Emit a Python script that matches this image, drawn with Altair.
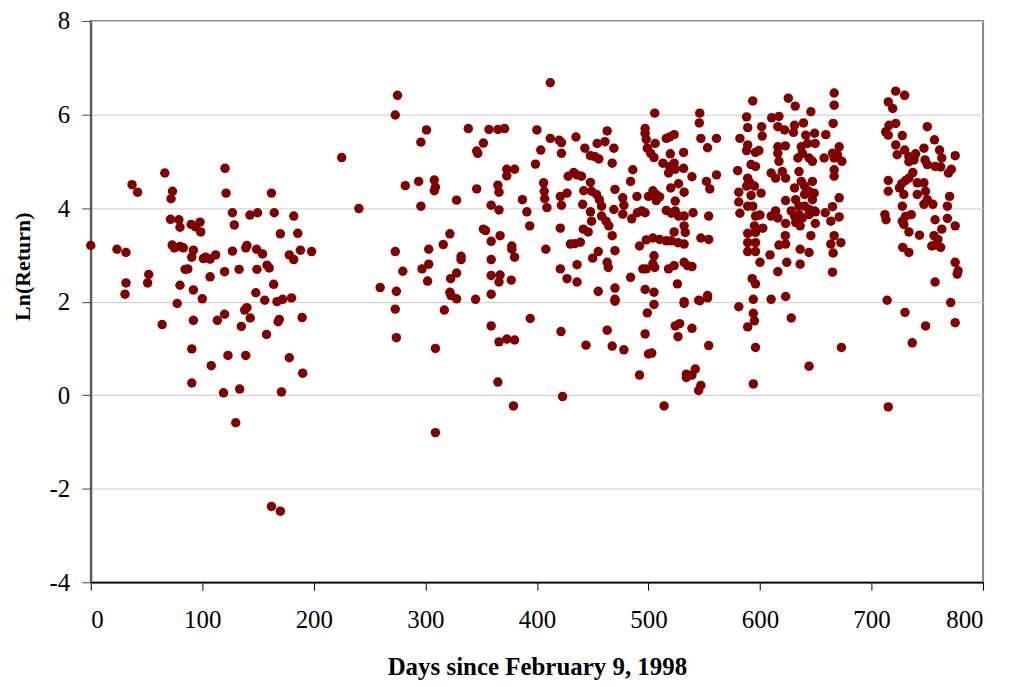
import altair as alt
import pandas as pd

# Segment 0-200 days
days_a = [0, 23.5, 31.6, 37, 42, 31.6, 30.7, 66.4, 73.3, 72, 52, 51, 71.5, 79, 80, 73, 75, 80, 83, 92,
          90.5, 90, 94, 98, 98.6, 101, 103, 107, 112, 120.4, 121.3, 127, 128.7, 127, 140, 139, 142.7, 149.6,
          148.7, 154, 162, 164.5, 170, 158, 160, 182, 185.6, 178, 182, 188, 198, 133, 120, 107, 84.6, 87, 80,
          92, 100, 149, 164, 148, 156, 167, 172, 180, 77.5, 64, 92, 113.5, 120, 138, 140, 143, 135, 168, 169,
          157.6, 189.5, 90.6, 123, 139, 108, 178, 190, 90.6, 119, 133.5, 171, 130, 162, 170]
ret_a = [3.2, 3.12, 3.05, 4.5, 4.34, 2.4, 2.16, 4.75, 4.36, 4.2, 2.58, 2.4, 3.76, 3.75, 3.59, 3.21, 3.15, 3.18,
         3.15, 3.1, 2.95, 3.65, 3.6, 3.7, 3.49, 2.92, 2.95, 2.91, 3.0, 4.85, 4.32, 3.9, 3.64, 3.08, 3.2, 3.15,
         3.85, 3.9, 3.12, 3.02, 4.32, 3.9, 3.45, 2.78, 2.72, 3.83, 3.46, 3.0, 2.9, 3.1, 3.07, 2.69, 2.64, 2.53,
         2.69, 2.7, 2.35, 2.25, 2.06, 2.69, 2.37, 2.19, 2.03, 2.0, 2.05, 2.08, 1.96, 1.51, 1.6, 1.6, 1.73, 1.82,
         1.87, 1.65, 1.47, 1.57, 1.62, 1.3, 1.66, 0.99, 0.85, 0.85, 0.63, 0.8, 0.47, 0.26, 0.05, 0.13, 0.07,
         -0.59, -2.38, -2.48]

# Segment 200-400 days
days_b = [225, 240.4, 275, 273, 301, 296, 282, 294, 308, 309, 308, 296, 328, 338.5, 357, 365, 371, 352, 346,
          347, 346, 400, 403.5, 398.7, 373, 380, 373, 365, 366, 359, 366, 387, 391, 393.6, 352, 354, 367, 359,
          322, 316, 303, 273, 332, 332, 377.5, 377.5, 380, 359, 303, 297, 279.8, 328, 322.7, 302, 359, 367,
          366, 377, 259.5, 274, 322, 323, 328, 345, 359, 273, 274, 317, 309, 359, 366, 373, 380, 394, 365,
          379, 309]
ret_b = [5.08, 3.99, 6.41, 5.99, 5.67, 5.41, 4.48, 4.57, 4.6, 4.45, 4.37, 4.04, 4.17, 5.7, 5.68, 5.68, 5.7,
         5.39, 5.22, 5.17, 4.41, 5.67, 5.24, 4.94, 4.83, 4.83, 4.69, 4.49, 4.34, 4.06, 3.96, 4.18, 3.92, 3.62,
         3.55, 3.52, 3.41, 3.29, 3.45, 3.22, 3.12, 3.07, 2.97, 2.9, 3.19, 3.12, 2.95, 2.9, 2.8, 2.7, 2.65, 2.61,
         2.49, 2.44, 2.56, 2.57, 2.42, 2.46, 2.3, 2.22, 2.2, 2.13, 2.06, 2.05, 2.16, 1.84, 1.23, 1.82, 1.0,
         1.48, 1.14, 1.2, 1.18, 1.64, 0.28, -0.23, -0.8]

# Segment 400-600 days
days_c = [412, 412, 420, 422, 422, 435, 443, 448, 452, 455.5, 454, 461, 463, 469, 467.5, 406, 406.6, 407, 409,
          421, 422, 427, 428, 433, 436, 440, 448, 442, 449, 453.5, 456, 458, 441, 448, 449, 458, 462, 464.5,
          467.5, 470, 469, 421, 441.6, 446, 430, 434, 439, 408, 455, 450, 470, 463, 464, 436, 421, 427, 436,
          455, 470, 470, 477, 478, 477, 485, 484, 486, 489.7, 490, 494, 497, 492, 484, 497, 497, 498, 505.6,
          506, 499, 502, 505, 513, 519, 523, 524, 518, 516, 519, 523, 519.6, 531.5, 531.5, 539, 527, 520, 532,
          504, 507, 510, 507, 500, 524, 516, 520.6, 524, 527, 532, 532, 533, 532, 540, 554, 523, 498, 504, 510,
          516, 520.5, 526.5, 547, 554, 505, 504, 505.6, 495, 498, 518, 523, 532, 535, 539, 526, 497, 505, 553,
          546, 545.6, 547, 553, 561, 561, 552, 555, 545, 532, 593.5, 588, 601.5, 602, 589, 582, 589, 588, 596,
          599, 580, 592, 596, 589, 591, 588, 595, 601, 581, 581, 582, 592, 589, 593.5, 596, 600, 595, 596, 589,
          589, 589, 596, 596, 600, 593, 596, 594, 421.6, 423, 444, 470, 463, 467.5, 478, 492, 499, 505, 497,
          500, 503, 514, 532, 546, 553, 524, 528, 526.5, 539, 554, 534, 534, 539, 542, 547, 545, 581, 594, 595,
          589, 596, 594]
ret_c = [6.68, 5.49, 5.45, 5.4, 5.17, 5.52, 5.28, 5.12, 5.1, 5.05, 5.38, 5.42, 5.65, 5.28, 4.96, 4.54, 4.36,
         4.2, 4.01, 4.25, 4.06, 4.32, 4.68, 4.76, 4.71, 4.68, 4.55, 4.37, 4.36, 4.29, 4.18, 4.04, 4.08, 3.92,
         3.72, 3.83, 3.72, 3.62, 3.41, 4.4, 3.97, 3.57, 3.55, 3.49, 3.23, 3.24, 3.27, 3.12, 3.07, 2.93, 3.09,
         2.84, 2.73, 2.79, 2.7, 2.49, 2.42, 2.22, 2.29, 2.05, 4.22, 4.06, 3.87, 3.77, 4.57, 4.82, 4.25, 3.9,
         3.94, 3.9, 3.19, 2.52, 5.7, 5.6, 5.47, 6.03, 5.38, 5.28, 5.17, 5.08, 4.96, 4.89, 4.96, 4.83, 4.75,
         5.49, 5.52, 5.57, 5.16, 5.19, 4.85, 4.67, 4.52, 4.43, 4.34, 4.37, 4.29, 4.24, 4.16, 4.25, 4.15, 3.95,
         3.89, 3.94, 3.83, 3.83, 3.62, 3.48, 3.23, 3.9, 3.83, 3.49, 3.32, 3.36, 3.33, 3.3, 3.3, 3.26, 3.36,
         3.33, 2.98, 2.81, 2.73, 2.7, 2.7, 2.7, 2.77, 2.84, 2.77, 2.75, 2.38, 2.26, 2.2, 2.13, 6.03, 5.82, 5.49,
         5.29, 5.49, 4.71, 4.57, 4.41, 2.03, 2.0, 6.29, 5.95, 5.74, 5.54, 5.72, 5.49, 5.35, 5.23, 5.19, 5.23,
         4.8, 4.93, 4.89, 4.64, 4.54, 4.47, 4.47, 4.32, 4.34, 4.13, 3.89, 4.27, 4.04, 4.04, 3.83, 3.85, 3.62,
         3.48, 3.46, 3.26, 3.07, 3.26, 3.07, 2.84, 2.49, 2.38, 2.05, 1.36, -0.03, 1.07, 2.01, 1.39, 1.05, 0.97,
         0.43, 1.76, 1.94, 1.31, 0.88, 0.9, -0.23, 1.96, 2.02, 2.08, 1.48, 1.53, 1.25, 1.43, 1.06, 0.45, 0.38,
         0.43, 0.56, 0.21, 0.1, 1.89, 1.75, 1.59, 1.46, 1.02, 0.24]

# Segment 600-800 days
days_d = [625.4, 631.6, 645.6, 666.5, 666.5, 665.6, 610.5, 617, 616, 622, 631, 630, 639, 641, 649, 659, 642.6,
          649.5, 616, 622.7, 616, 637, 638, 634, 644, 647, 657.5, 665, 666.5, 671, 673.4, 669.5, 617, 666.5,
          666.5, 610, 614, 620, 623, 635, 637, 640, 647, 631, 644, 648.6, 647, 640, 632, 623, 635, 640, 644,
          648.6, 671, 665, 614, 610, 616, 628, 631, 635, 638, 632, 636, 644, 649.6, 658.5, 663.5, 671, 623,
          649.6, 602.5, 622.7, 623, 617, 645.6, 666.5, 672.5, 663.5, 636, 644, 665.6, 609, 624, 636, 616, 665,
          610, 623, 721.7, 729.7, 715, 719, 715.7, 721.7, 712.7, 715, 727.6, 750, 756.4, 721.7, 729.7, 723,
          733.5, 739.5, 747, 733.5, 738, 748, 750, 757, 762, 761, 763, 775, 771.6, 769, 737, 733.5, 730.5, 727,
          725, 715, 715, 741, 747, 729, 741, 748.4, 750, 747, 755, 770, 768, 727.6, 712, 713, 735.6, 730.5,
          727.6, 729, 757, 768, 775, 763, 733.5, 743, 756, 759.5, 754, 762, 757, 728, 733.5, 775, 777.6, 776.8,
          757, 771, 714, 628, 644, 673, 730, 748.5, 775, 736.5, 715]
ret_d = [6.35, 6.18, 6.06, 6.46, 6.2, 5.81, 5.93, 5.96, 5.74, 5.67, 5.77, 5.62, 5.82, 5.56, 5.6, 5.57, 5.38,
         5.38, 5.31, 5.33, 5.17, 5.31, 5.17, 5.07, 5.07, 5.0, 5.07, 5.17, 5.07, 5.31, 5.0, 5.14, 5.0, 4.82,
         4.68, 4.75, 4.64, 4.78, 4.64, 4.78, 4.57, 4.47, 4.57, 4.43, 4.36, 4.32, 4.18, 4.29, 4.18, 4.16, 4.04,
         4.04, 3.97, 3.94, 4.22, 4.03, 3.94, 3.83, 3.79, 3.94, 3.83, 3.86, 3.79, 3.69, 3.62, 3.86, 3.92, 3.9,
         3.72, 3.81, 3.67, 3.67, 3.57, 3.41, 3.23, 3.21, 3.41, 3.41, 3.26, 3.23, 3.12, 3.05, 3.04, 3.0, 2.84,
         2.8, 2.64, 2.63, 2.05, 2.11, 6.5, 6.41, 6.27, 6.13, 5.77, 5.81, 5.63, 5.56, 5.55, 5.74, 5.46, 5.35,
         5.24, 5.14, 5.1, 5.16, 5.28, 4.99, 5.03, 5.03, 4.93, 4.89, 4.88, 5.24, 5.07, 5.12, 4.83, 4.75, 4.76,
         4.64, 4.59, 4.52, 4.43, 4.59, 4.36, 4.54, 4.54, 4.29, 4.29, 4.36, 4.18, 4.08, 4.08, 4.25, 4.04, 4.04,
         3.86, 3.75, 3.86, 3.82, 3.72, 3.65, 3.75, 3.78, 3.62, 3.55, 3.49, 3.42, 3.41, 3.33, 3.19, 3.16, 3.21,
         3.16, 3.05, 2.84, 2.66, 2.59, 2.42, 1.98, 2.03, 1.65, 0.62, 1.02, 1.77, 1.48, 1.55, 1.12, -0.25]

x_ticks = [0, 100, 200, 300, 400, 500, 600, 700, 800]
y_ticks = [-4, -2, 0, 2, 4, 6, 8]

df = pd.DataFrame({
    "day": days_a + days_b + days_c + days_d,
    "ret": ret_a + ret_b + ret_c + ret_d,
})

font = "Liberation Serif"

chart = alt.Chart(df).mark_circle(size=90, color="#800000", opacity=1).encode(
    x=alt.X("day:Q",
            scale=alt.Scale(domain=[0, 800], nice=False, zero=False),
            axis=alt.Axis(values=x_ticks, title="Days since February 9, 1998", grid=False,
                          labelFont=font, labelFontSize=25, labelColor="black",
                          labelPadding=17, tickSize=8, tickColor="black", tickWidth=1,
                          domainColor="black", domainWidth=1.5,
                          titleFont=font, titleFontSize=25, titleFontWeight="bold",
                          titleColor="black", titleY=84, titleBaseline="middle",
                          labelExpr="'' + datum.value")),
    y=alt.Y("ret:Q",
            scale=alt.Scale(domain=[-4, 8], nice=False, zero=False),
            axis=alt.Axis(values=y_ticks, title="Ln(Return)", grid=True, gridColor="#cccccc",
                          gridWidth=1, labelFont=font, labelFontSize=25, labelColor="black",
                          labelPadding=12, tickSize=9, tickColor="#444444", tickWidth=1,
                          domainColor="#555555", domainWidth=2,
                          titleFont=font, titleFontSize=22, titleFontWeight="bold",
                          titleColor="black", titleAngle=-90, titleX=-68, titleY=246,
                          titleAlign="center", titleBaseline="middle",
                          labelExpr="'' + datum.value")),
).properties(
    width=895, height=563,
    padding={"left": 83, "top": 12, "right": 20, "bottom": 100},
    autosize="none",
).configure_view(stroke="#888888", strokeWidth=2)

chart.save("out.html", embed_options={"renderer": "svg", "actions": False})
